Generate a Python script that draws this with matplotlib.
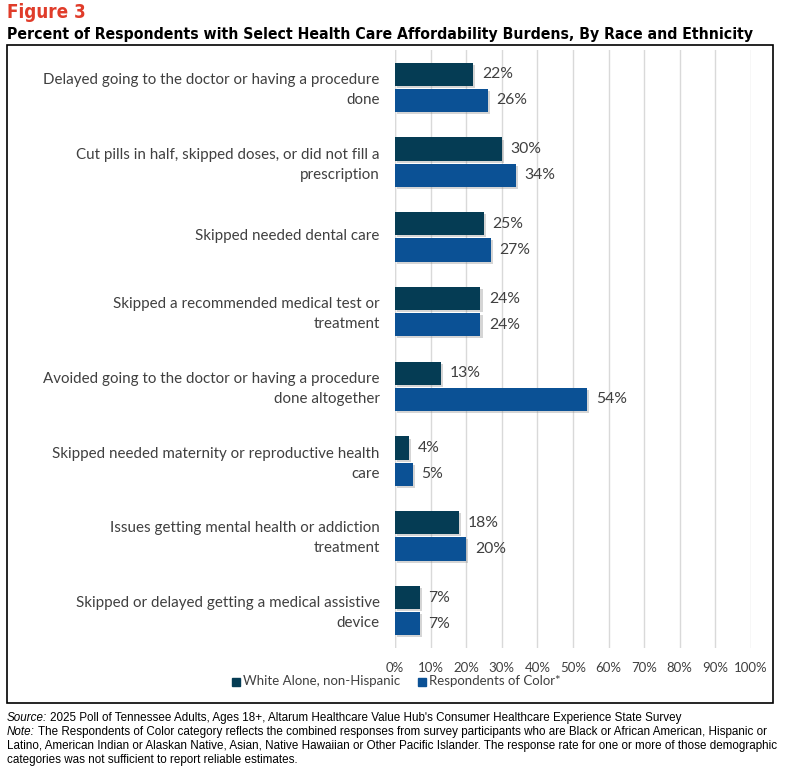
import matplotlib
matplotlib.use("Agg")
import matplotlib.pyplot as plt
import matplotlib.patheffects as pe
import matplotlib.transforms as mtrans
from matplotlib.patches import Rectangle
import numpy as np

categories = [
    "Delayed going to the doctor or having a procedure\ndone",
    "Cut pills in half, skipped doses, or did not fill a\nprescription",
    "Skipped needed dental care",
    "Skipped a recommended medical test or\ntreatment",
    "Avoided going to the doctor or having a procedure\ndone altogether",
    "Skipped needed maternity or reproductive health\ncare",
    "Issues getting mental health or addiction\ntreatment",
    "Skipped or delayed getting a medical assistive\ndevice",
]
white_vals = [22, 30, 25, 24, 13, 4, 18, 7]
color_vals = [26, 34, 27, 24, 54, 5, 20, 7]
series_names = ["White Alone, non-Hispanic", "Respondents of Color*"]
xticks = list(range(0, 101, 10))

C_WHITE = "#053c54"
C_COLOR = "#0b5195"
TXT = "#404040"
FONT = "Lato"

fig = plt.figure(figsize=(7.89, 7.73), dpi=100)
W, H = 789, 773

def fx(px):
    return px / W

def fy(py):
    return 1 - py / H

# Border box
fig.patches.append(Rectangle((fx(7), fy(703)), fx(773) - fx(7), fy(45) - fy(703),
                             transform=fig.transFigure, fill=False, edgecolor="black", lw=1.2))

ax = fig.add_axes([fx(395), fy(648), fx(751) - fx(395), fy(50) - fy(648)])
n = len(categories)
y = np.arange(n)
bh = 0.31
shadow = [pe.SimplePatchShadow(offset=(1.5, -1.5), shadow_rgbFace="#888888", alpha=0.35), pe.Normal()]
b1 = ax.barh(y - bh / 2 - 0.02, white_vals, height=bh, color=C_WHITE, label=series_names[0], zorder=3)
b2 = ax.barh(y + bh / 2 + 0.02, color_vals, height=bh, color=C_COLOR, label=series_names[1], zorder=3)
for b in list(b1) + list(b2):
    b.set_path_effects(shadow)

for yy, v in zip(y - bh / 2 - 0.02, white_vals):
    ax.text(v + 2.4, yy, f"{v}%", va="center", ha="left", fontsize=11.3, color=TXT, family=FONT)
for yy, v in zip(y + bh / 2 + 0.02, color_vals):
    ax.text(v + 2.4, yy, f"{v}%", va="center", ha="left", fontsize=11.3, color=TXT, family=FONT)

ax.set_xlim(0, 100)
ax.set_ylim(n - 0.5, -0.5)
ax.set_xticks(xticks)
ax.set_xticklabels([f"{t}%" for t in xticks], fontsize=9.5, color=TXT, family=FONT)
ax.set_yticks(y)
ax.set_yticklabels(categories, fontsize=10.9, color=TXT, family=FONT, linespacing=1.55)
ax.tick_params(axis="y", length=0, pad=11)
ax.tick_params(axis="x", length=0, pad=10)
for lab in ax.get_yticklabels():
    lab.set_transform(lab.get_transform() + mtrans.ScaledTranslation(0, 2.0 / 100, fig.dpi_scale_trans))
ax.grid(axis="x", color="#d9d9d9", lw=1, zorder=0)
for s in ax.spines.values():
    s.set_visible(False)
ax.axvline(0, color="#d9d9d9", lw=1, zorder=1)

# Legend
fig.patches.append(Rectangle((fx(232), fy(686)), fx(8), fy(678) - fy(686), transform=fig.transFigure,
                             color=C_WHITE))
fig.text(fx(243), fy(681), series_names[0], fontsize=9.5, color=TXT, family=FONT, va="center", ha="left")
fig.patches.append(Rectangle((fx(418), fy(686)), fx(8), fy(678) - fy(686), transform=fig.transFigure,
                             color=C_COLOR))
fig.text(fx(429), fy(681), series_names[1], fontsize=9.5, color=TXT, family=FONT, va="center", ha="left")

# Titles
fig.text(fx(7), fy(13), "Figure 3", fontsize=13.5, color="#e03c2a", weight="bold",
         family="DejaVu Sans", stretch="condensed", va="center", ha="left")
fig.text(fx(7), fy(34), "Percent of Respondents with Select Health Care Affordability Burdens, By Race and Ethnicity",
         fontsize=11.35, color="black", weight="bold", family="DejaVu Sans", stretch="condensed",
         va="center", ha="left")

# Footer
fig.canvas.draw()
r = fig.canvas.get_renderer()
fs = 8.35
t1 = fig.text(fx(7), fy(718), "Source:", fontsize=fs, style="italic", family="Liberation Sans", va="center", ha="left")
w1 = t1.get_window_extent(r).width
fig.text(fx(7) + (w1 + 3) / W, fy(718),
         "2025 Poll of Tennessee Adults, Ages 18+, Altarum Healthcare Value Hub's Consumer Healthcare Experience State Survey",
         fontsize=fs, family="Liberation Sans", va="center", ha="left")
t2 = fig.text(fx(7), fy(732), "Note:", fontsize=fs, style="italic", family="Liberation Sans", va="center", ha="left")
w2 = t2.get_window_extent(r).width
fig.text(fx(7) + (w2 + 3) / W, fy(732),
         "The Respondents of Color category reflects the combined responses from survey participants who are Black or African American, Hispanic or",
         fontsize=fs, family="Liberation Sans", va="center", ha="left")
fig.text(fx(7), fy(746),
         "Latino, American Indian or Alaskan Native, Asian, Native Hawaiian or Other Pacific Islander. The response rate for one or more of those demographic",
         fontsize=fs, family="Liberation Sans", va="center", ha="left")
fig.text(fx(7), fy(760), "categories was not sufficient to report reliable estimates.",
         fontsize=fs, family="Liberation Sans", va="center", ha="left")

fig.savefig("out.png", dpi=100)
